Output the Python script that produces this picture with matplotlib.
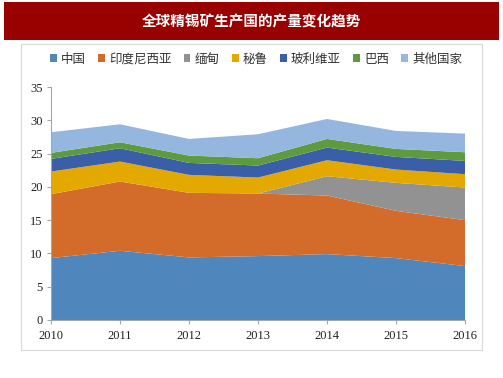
import matplotlib
matplotlib.use("Agg")
import matplotlib.pyplot as plt
from matplotlib.patches import Rectangle

plt.rcParams['font.family'] = ['Noto Sans CJK SC', 'DejaVu Sans']

years = [2010, 2011, 2012, 2013, 2014, 2015, 2016]
series_names = ["中国", "印度尼西亚", "缅甸", "秘鲁", "玻利维亚", "巴西", "其他国家"]
china = [9.3, 10.4, 9.4, 9.6, 9.9, 9.3, 8.1]
indonesia = [9.6, 10.4, 9.7, 9.4, 8.8, 7.1, 6.9]
myanmar = [0, 0, 0, 0, 2.9, 4.2, 4.9]
peru = [3.4, 3.0, 2.7, 2.4, 2.4, 2.0, 2.0]
bolivia = [1.9, 2.0, 1.8, 1.8, 1.9, 1.9, 2.0]
brazil = [0.9, 0.9, 1.1, 1.1, 1.3, 1.2, 1.3]
others = [3.1, 2.7, 2.5, 3.6, 3.0, 2.7, 2.8]
yticks = [0, 5, 10, 15, 20, 25, 30, 35]
title = "全球精锡矿生产国的产量变化趋势"

colors = ["#4F87BD", "#D36C2A", "#929292", "#E4A900", "#3A5FA8", "#5E9B3E", "#95B6DF"]

fig = plt.figure(figsize=(5.03, 3.78), dpi=100)
W, H = 503, 378

# title banner
fig.patches.append(Rectangle((4 / W, 1 - 40 / H), 495 / W, 38 / H, transform=fig.transFigure,
                             facecolor="#990000", edgecolor="none", zorder=0))
fig.text(251 / W, 1 - 21 / H, title, color="white", fontsize=10.5, fontweight="bold",
         ha="center", va="center")
# chart area border
fig.patches.append(Rectangle((21 / W, 1 - 350 / H), 461 / W, 306 / H, transform=fig.transFigure,
                             facecolor="none", edgecolor="#D9D9D9", linewidth=0.8, zorder=0))

ax = fig.add_axes([51 / W, 1 - 320 / H, 414 / W, 233 / H])
polys = ax.stackplot(years, china, indonesia, myanmar, peru, bolivia, brazil, others,
                     colors=colors, labels=series_names, linewidth=0)
ax.set_xlim(years[0], years[-1])
ax.set_ylim(0, 35)
ax.set_yticks(yticks)
ax.set_xticks(years)
for s in ["top", "right"]:
    ax.spines[s].set_visible(False)
for s in ["left", "bottom"]:
    ax.spines[s].set_color("#A6A6A6")
    ax.spines[s].set_linewidth(0.8)
ax.tick_params(axis="both", colors="#A6A6A6", length=3, width=0.8, direction="out")
for lab in ax.get_xticklabels() + ax.get_yticklabels():
    lab.set_fontfamily("Liberation Serif")
    lab.set_fontsize(9)
    lab.set_color("#222222")
ax.tick_params(axis="x", pad=4)
ax.tick_params(axis="y", pad=3)

leg = fig.legend(handles=polys, labels=series_names, loc="center", ncol=7,
                 bbox_to_anchor=(256 / W, 1 - 59 / H), frameon=False, fontsize=9.0,
                 handlelength=0.55, handleheight=0.55, handletextpad=0.35, columnspacing=0.95,
                 borderpad=0)
for t in leg.get_texts():
    t.set_color("#333333")

fig.savefig("out.png", dpi=100)
